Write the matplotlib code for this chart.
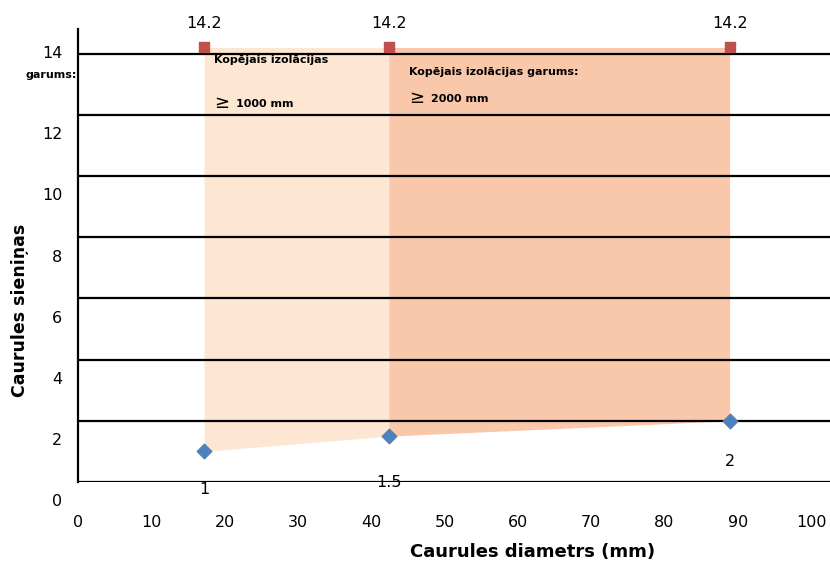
import numpy as np
import matplotlib.pyplot as plt

# data
diametrs = [17.2, 42.4, 88.9]          # caurules diametrs (mm)
sienina = [1.0, 1.5, 2.0]              # caurules sieniņas biezums
augsa = [14.2, 14.2, 14.2]             # top marks
sien_labels = ['1', '1.5', '2']
yticks = [0, 2, 4, 6, 8, 10, 12, 14]
xticks = [0, 10, 20, 30, 40, 50, 60, 70, 80, 90, 100]

light = '#FDE6D2'
dark = '#F9C7A9'

fig = plt.figure(figsize=(8.3, 5.66), dpi=100)
ax = fig.add_axes([78/830, (566-482)/566, 752/830, (482-29)/566])
ax.set_xlim(0, 752/7.33)
ax.set_ylim(0, (482-29)/30.6)

x = np.array(diametrs)
y = np.array(sienina)
top = np.array(augsa)
ax.fill_between(x[:2], y[:2], top[:2], color=light, lw=0, zorder=1)
ax.fill_between(x[1:], y[1:], top[1:], color=dark, lw=0, zorder=1)

for v in yticks:
    ax.axhline(v, color='black', lw=1.6, zorder=2)

ax.scatter(x, top, marker='s', s=60, color='#C0504D', zorder=4)
ax.scatter(x, y, marker='D', s=55, color='#4F81BD', zorder=4)

for xi, ti in zip(x, top):
    ax.annotate('%.1f' % ti, (xi, ti), xytext=(0, 16), textcoords='offset pixels',
                ha='center', va='bottom', fontsize=11.5, annotation_clip=False)
for xi, yi, lab, off in zip(x, y, sien_labels, [-38, -46, -41]):
    ax.annotate(lab, (xi, yi), xytext=(0, off), textcoords='offset pixels',
                ha='center', va='center', fontsize=11.5, annotation_clip=False)

ax.spines['top'].set_visible(False)
ax.spines['right'].set_visible(False)
ax.spines['bottom'].set_visible(False)
ax.spines['left'].set_linewidth(1.6)

ax.set_xticks(xticks)
ax.tick_params(axis='x', length=0, pad=24, labelsize=11.5)
ax.set_yticks([])
# y labels sit a little below their gridlines in the original
for v in yticks:
    pos = v - 0.65 if v < 14 else v
    ax.text(-0.021, pos, str(v), transform=ax.get_yaxis_transform(),
            ha='right', va='center', fontsize=11.5, clip_on=False)

ax.set_xlabel('Caurules diametrs (mm)', fontsize=13, fontweight='bold')
ax.xaxis.set_label_coords(0.604, -(543-482)/453)
fig.text(20/830, 1-310/566, 'Caurules sieniņas', rotation=90, ha='center', va='center',
         fontsize=12.5, fontweight='bold')

# text boxes
ax.text(18.6, 13.8, 'Kopējais izolācijas', fontsize=8, fontweight='bold', va='center')
fig.text(25/830, 1-75/566, 'garums:', fontsize=8, fontweight='bold', va='center')
ax.text(18.6, 12.4, '≥', fontsize=13, va='center')
ax.text(21.6, 12.35, '1000 mm', fontsize=8, fontweight='bold', va='center')
ax.text(45.2, 13.4, 'Kopējais izolācijas garums:', fontsize=8, fontweight='bold', va='center')
ax.text(45.2, 12.55, '≥', fontsize=13, va='center')
ax.text(48.2, 12.5, '2000 mm', fontsize=8, fontweight='bold', va='center')

fig.savefig('out.png', dpi=100)
